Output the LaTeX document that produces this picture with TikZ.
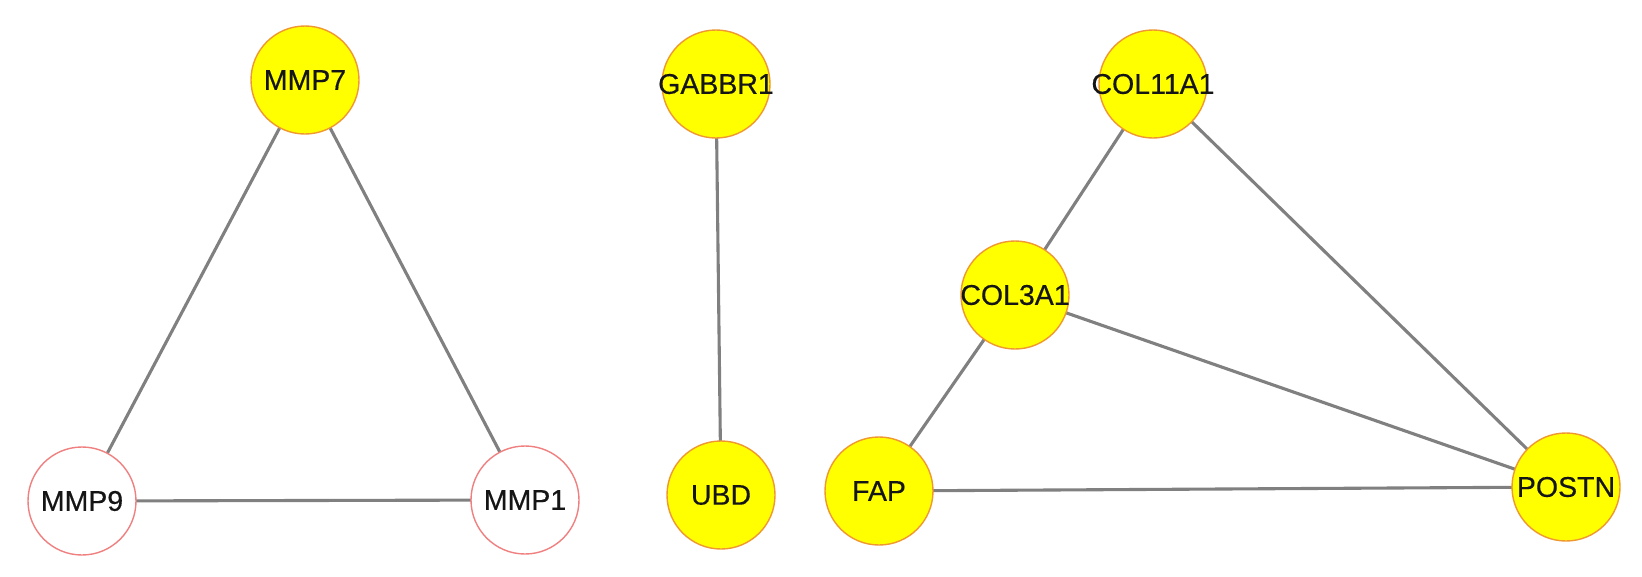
\documentclass[tikz,border=0pt]{standalone}
\usepackage{fontspec}
\setmainfont{Liberation Sans}
\newfontfamily\genefont{Liberation Sans}[FakeBold=0.4]
\definecolor{ynode}{HTML}{FFFF00}
\definecolor{yborder}{HTML}{F09830}
\definecolor{wborder}{HTML}{F08080}
\definecolor{edgec}{HTML}{808080}
\definecolor{txt}{HTML}{151515}
\tikzset{
  gene/.style={circle, minimum size=108pt, inner sep=0pt, line width=1.4pt,
    font=\genefont\fontsize{28.5}{28.5}\selectfont, text=txt},
  yel/.style={gene, fill=ynode, draw=yborder},
  wht/.style={gene, fill=white, draw=wborder},
  edge/.style={draw=edgec, line width=3.1pt}
}
\begin{document}
\begin{tikzpicture}[x=1pt,y=-1pt]
\useasboundingbox (0,0) rectangle (1642,576);
\fill[white] (0,0) rectangle (1642,576);
% centres
\coordinate (cMMP7) at (305,80);
\coordinate (cMMP9) at (82,501);
\coordinate (cMMP1) at (525,500);
\coordinate (cGABBR1) at (716,84);
\coordinate (cUBD) at (721,495);
\coordinate (cCOL11A1) at (1153,84);
\coordinate (cCOL3A1) at (1015,295);
\coordinate (cFAP) at (879,491);
\coordinate (cPOSTN) at (1566,487);
% edges first (nodes drawn on top)
\draw[edge] (cMMP7) -- (cMMP9);
\draw[edge] (cMMP7) -- (cMMP1);
\draw[edge] (cMMP9) -- (cMMP1);
\draw[edge] (cGABBR1) -- (cUBD);
\draw[edge] (cCOL11A1) -- (cCOL3A1);
\draw[edge] (cCOL11A1) -- (cPOSTN);
\draw[edge] (cCOL3A1) -- (cPOSTN);
\draw[edge] (cCOL3A1) -- (cFAP);
\draw[edge] (cFAP) -- (cPOSTN);
% nodes
\node[yel] (MMP7) at (cMMP7) {\makebox[0pt]{MMP7}};
\node[wht] (MMP9) at (cMMP9) {\makebox[0pt]{MMP9}};
\node[wht] (MMP1) at (cMMP1) {\makebox[0pt]{MMP1}};
\node[yel] (GABBR1) at (cGABBR1) {\makebox[0pt]{GABBR1}};
\node[yel] (UBD) at (cUBD) {\makebox[0pt]{UBD}};
\node[yel] (COL11A1) at (cCOL11A1) {\makebox[0pt]{COL11A1}};
\node[yel] (COL3A1) at (cCOL3A1) {\makebox[0pt]{COL3A1}};
\node[yel] (FAP) at (cFAP) {\makebox[0pt]{FAP}};
\node[yel] (POSTN) at (cPOSTN) {\makebox[0pt]{POSTN}};
\end{tikzpicture}
\end{document}
